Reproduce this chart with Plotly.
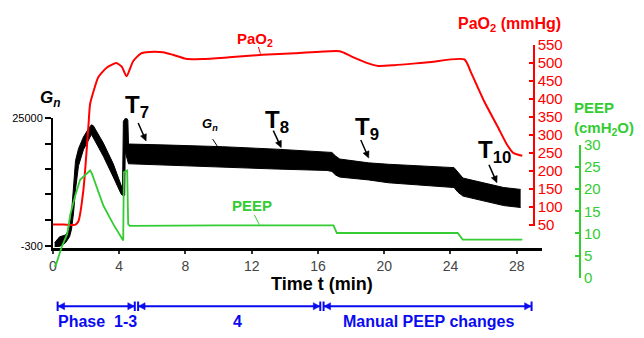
import plotly.graph_objects as go

# ---------------- data ----------------
gn_t = [0.10, 0.40, 0.76, 1.00, 1.12, 1.24, 1.36, 1.54, 1.84, 2.14, 2.32, 2.44, 3.04, 3.64,
        4.12, 4.20, 4.25, 4.33, 4.36, 4.45, 4.52, 4.56, 4.66, 7.0, 10.24, 13.5, 16.54, 16.84,
        17.08, 17.32, 19.06, 20.26, 24.22, 24.46, 24.76, 27.22, 28.24]
gn_upper = [450, 1600, 1950, 3100, 6300, 10900, 16600, 19000, 21300, 22900, 23700, 23500, 20100, 16000,
            11700, 11500, 24400, 24800, 25000, 25000, 24600, 19900, 19900, 19700, 19380, 18890, 18440, 18250,
            17500, 16940, 16190, 15910, 15250, 14320, 13190, 11320, 10950]
gn_lower = [-300, -300, 450, 1600, 3100, 6300, 10900, 15600, 18800, 20700, 21800, 21100, 17500, 13400,
            10000, 9800, 9800, 9800, 18400, 17500, 16600, 16000, 16000, 15690, 15255, 14970, 14690, 14510,
            13760, 13380, 12820, 12260, 11320, 10380, 9630, 7760, 7380]

pao2_t = [0.0, 0.6, 1.2, 1.36, 1.54, 1.84, 2.14, 2.24, 2.44, 2.74, 3.24, 3.82, 4.15, 4.44, 4.84, 5.32,
          5.84, 6.64, 7.24, 8.02, 9.04, 10.64, 12.64, 14.62, 17.32, 18.04, 19.04, 19.64, 20.62, 22.64,
          24.84, 25.24, 26.02, 26.84, 27.44, 27.82, 28.34]
pao2 = [50, 50, 49, 50, 60, 148, 325, 386, 420, 461, 487, 500, 490, 463, 505, 527,
        531, 530, 523, 512, 511, 516, 523, 527, 533, 518, 499, 492, 494, 502,
        510, 474, 395, 324, 271, 249, 242]

peep_t = [0.07, 0.16, 0.54, 0.86, 1.04, 1.34, 1.64, 1.94, 2.24, 2.34, 2.64, 3.04, 3.64, 4.14, 4.24,
          4.28, 4.48, 4.54, 4.64, 10.0, 16.94, 17.14, 24.44, 24.74, 28.34]
peep = [2.6, 2.7, 7.1, 9.9, 14.2, 18.5, 22.1, 23.1, 24.2, 23.6, 20.6, 16.3, 12.1, 8.8, 8.4,
        23.8, 24.2, 12.1, 11.7, 11.8, 11.8, 10.1, 10.1, 8.6, 8.6]

x_tickvals = [0, 4, 8, 12, 16, 20, 24, 28]
gn_tickvals = [-300, 25000]
gn_ticktext = ["-300", "25000"]
gn_minor_tickvals = [5000, 10000, 15000, 20000]
pao2_tickvals = [50, 100, 150, 200, 250, 300, 350, 400, 450, 500, 550]
peep_tickvals = [0, 5, 10, 15, 20, 25, 30]

phase_bounds = [(0.28, 4.94), (5.14, 16.14), (16.34, 28.9)]
phase_labels = ["Phase&nbsp; 1-3", "4", "Manual PEEP changes"]
phase_label_t = [2.69, 11.14, 22.69]

# ---------------- layout helpers ----------------
W, H = 644, 338
def px(x):
    return x / W
def py(y):
    return 1 - y / H

RED = "#ff0000"
GREEN = "#33cc33"
BLUE = "#0a0af0"
FONT = "Arial, Liberation Sans, sans-serif"

fig = go.Figure()

# Gn band (upper + lower filled)
fig.add_trace(go.Scatter(x=gn_t, y=gn_upper, mode="lines", line=dict(color="black", width=1),
                         xaxis="x", yaxis="y", showlegend=False, hoverinfo="skip"))
fig.add_trace(go.Scatter(x=gn_t, y=gn_lower, mode="lines", line=dict(color="black", width=1),
                         fill="tonexty", fillcolor="black",
                         xaxis="x", yaxis="y", showlegend=False, hoverinfo="skip"))
# PEEP
fig.add_trace(go.Scatter(x=peep_t, y=peep, mode="lines", line=dict(color=GREEN, width=1.8),
                         xaxis="x", yaxis="y3", showlegend=False))
# PaO2
fig.add_trace(go.Scatter(x=pao2_t, y=pao2, mode="lines",
                         line=dict(color=RED, width=2, shape="spline", smoothing=0.6),
                         xaxis="x", yaxis="y2", showlegend=False))

gn_per_px = 25300 / 135.0
pao_per_px = 500 / 189.0

fig.update_layout(
    width=W, height=H,
    margin=dict(l=0, r=0, t=0, b=0),
    paper_bgcolor="white", plot_bgcolor="rgba(0,0,0,0)",
    font=dict(family=FONT, color="black"),
    xaxis=dict(domain=[px(49.3), px(541.7)], range=[0, 29.55], anchor="y",
               showline=True, linecolor="black", linewidth=3,
               tickvals=x_tickvals, ticks="outside", ticklen=3, tickwidth=1.5, tickcolor="#333",
               tickfont=dict(size=14, color="#444", family=FONT),
               showgrid=False, zeroline=False),
    yaxis=dict(domain=[py(252), py(115)], range=[25000 - (252 - 115) * gn_per_px, 25000],
               anchor="x", showline=True, linecolor="black", linewidth=2,
               tickvals=gn_tickvals, ticktext=gn_ticktext, ticks="outside", ticklen=6,
               tickcolor="black", tickwidth=1.5, tickfont=dict(size=11, color="black"),
               minor=dict(tickvals=gn_minor_tickvals, ticks="outside", ticklen=6,
                          tickwidth=1.5, tickcolor="black", showgrid=False),
               showgrid=False, zeroline=False),
    yaxis2=dict(domain=[py(228.9), py(38)], range=[550 - (228.9 - 38) * pao_per_px, 550],
                anchor="free", position=px(533), side="right",
                showline=True, linecolor=RED, linewidth=2,
                tickvals=pao2_tickvals, ticks="inside", ticklen=4, tickwidth=2, tickcolor=RED,
                tickfont=dict(size=15, color=RED, family=FONT),
                tickprefix="<b>", ticksuffix="</b>",
                showgrid=False, zeroline=False),
    yaxis3=dict(domain=[py(283), py(143)], range=[0, 30],
                anchor="free", position=px(579.5), side="right",
                showline=True, linecolor=GREEN, linewidth=2,
                tickvals=peep_tickvals, ticks="inside", ticklen=4, tickwidth=2, tickcolor=GREEN,
                tickfont=dict(size=15, color=GREEN, family=FONT),
                tickprefix="<b>", ticksuffix="</b>",
                showgrid=False, zeroline=False),
)

ann = []
def text(x, y, s, size, color="black", xanchor="center", yanchor="middle", align="center"):
    ann.append(dict(x=px(x), y=py(y), xref="paper", yref="paper", text=s, showarrow=False,
                    font=dict(size=size, color=color, family=FONT), xanchor=xanchor,
                    yanchor=yanchor, align=align))

shapes = []
def seg(x0, y0, x1, y1, color, width):
    shapes.append(dict(type="line", xref="paper", yref="paper", x0=px(x0), y0=py(y0),
                       x1=px(x1), y1=py(y1), line=dict(color=color, width=width)))

def tri(tipx, tipy, dx, dy, half, color):
    # filled triangle with tip at (tipx, tipy), base displaced by (dx, dy)
    ln = (dx * dx + dy * dy) ** 0.5
    nx, ny = -dy / ln * half, dx / ln * half
    bx, by = tipx + dx, tipy + dy
    path = "M {} {} L {} {} L {} {} Z".format(px(tipx), py(tipy), px(bx + nx), py(by + ny),
                                              px(bx - nx), py(by - ny))
    shapes.append(dict(type="path", xref="paper", yref="paper", path=path,
                       fillcolor=color, line=dict(color=color, width=0.5)))

def arrow(x0, y0, x1, y1):
    ln = ((x1 - x0) ** 2 + (y1 - y0) ** 2) ** 0.5
    ux, uy = (x1 - x0) / ln, (y1 - y0) / ln
    seg(x0, y0, x1 - ux * 5, y1 - uy * 5, "black", 1.5)
    tri(x1, y1, -ux * 7, -uy * 7, 3.2, "black")

# axis titles
text(47, 95, "<b><i>G<sub>n</sub></i></b>", 17)
text(509, 16, "<b>PaO<sub>2</sub> (mmHg)</b>", 16, RED)
text(572, 115, "<b>PEEP<br>(cmH<sub>2</sub>O)</b>", 15, GREEN, xanchor="left", align="left")
text(320, 290, "<b>Time t (min)</b>", 18)

# curve labels
text(253, 32, "<b>PaO<sub>2</sub></b>", 15, RED)
text(250, 207, "<b>PEEP</b>", 15, GREEN)
text(207, 122, "<b><i>G<sub>n</sub></i></b>", 13)

# T labels
text(134, 103, "<b>T<sub>7</sub></b>", 24)
text(275, 118, "<b>T<sub>8</sub></b>", 24)
text(365, 126, "<b>T<sub>9</sub></b>", 24)
text(494, 150, "<b>T<sub>10</sub></b>", 24)
arrow(135, 120, 143, 139)
arrow(271, 128, 279, 146)
arrow(359, 138, 367, 157)
arrow(488, 164, 496, 183)

# leader lines
seg(256, 40, 258, 47, RED, 1)
seg(252, 217, 257, 227, GREEN, 1)
seg(210, 137, 215, 145, "black", 1)

# phase arrows
ay_ = 313
def tpx(t):
    return 49.3 + t * (541.7 - 49.3) / 29.55
for (t0, t1) in phase_bounds:
    xa, xb = tpx(t0), tpx(t1)
    seg(xa, ay_, xb, ay_, BLUE, 2)
    seg(xa, ay_ - 5, xa, ay_ + 5, BLUE, 2)
    seg(xb, ay_ - 5, xb, ay_ + 5, BLUE, 2)
    tri(xa + 0.5, ay_, 6.5, 0, 3.8, BLUE)
    tri(xb - 0.5, ay_, -6.5, 0, 3.8, BLUE)
for lab, tc in zip(phase_labels, phase_label_t):
    text(tpx(tc), 329, "<b>" + lab + "</b>", 16, BLUE)

fig.update_layout(annotations=ann, shapes=shapes)
fig.write_html("out.html")
